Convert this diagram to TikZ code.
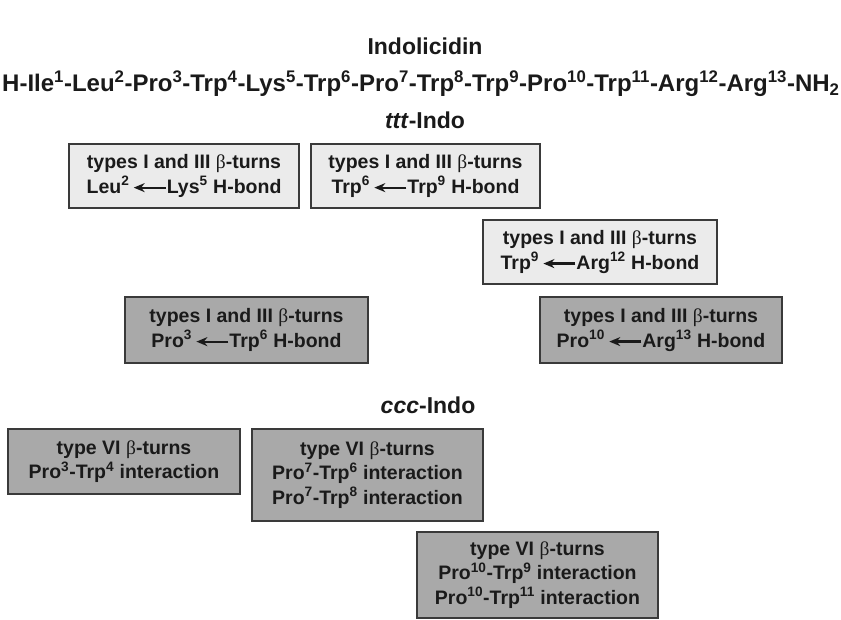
\documentclass[tikz,border=0pt]{standalone}
\usepackage{fontspec}
\setmainfont{Liberation Sans}
\newfontfamily\greekfont{Liberation Serif}
\usetikzlibrary{arrows.meta}
\definecolor{lightbox}{HTML}{EBEBEB}
\definecolor{darkbox}{HTML}{A9A9A9}
\definecolor{boxline}{HTML}{3A3A3A}
\definecolor{ink}{HTML}{1A1A1A}
\newcommand{\bt}{{\greekfont\mdseries β}}
\newcommand{\hb}{\,\tikz[baseline=-0.55ex]\draw[line width=2.2pt,-{Stealth[length=11pt,width=9pt]}] (0pt,0pt) -- (-32pt,0pt);}
\newcommand{\su}[1]{\textsuperscript{#1}}
\begin{document}
\begin{tikzpicture}[x=1pt,y=-1pt,
  title/.style={font=\fontsize{23}{26}\selectfont\bfseries, text=ink, inner sep=0pt},
  turnbox/.style={draw=boxline, line width=1.8pt, align=center, text=ink,
    font=\fontsize{19.5}{24.5}\selectfont\bfseries, inner sep=0pt},
  lightturn/.style={turnbox, fill=lightbox},
  darkturn/.style={turnbox, fill=darkbox}]
\useasboundingbox (0,0) rectangle (841,619);

\node[title] (name) at (425,46) {Indolicidin};
\node[title, font=\fontsize{24}{26}\selectfont\bfseries, anchor=west] (seq) at (2,84)
  {H-Ile\su{1}-Leu\su{2}-Pro\su{3}-Trp\su{4}-Lys\su{5}-Trp\su{6}-Pro\su{7}-Trp\su{8}-Trp\su{9}-Pro\su{10}-Trp\su{11}-Arg\su{12}-Arg\su{13}-NH\textsubscript{2}};
\node[title] (ttt) at (425,120) {\textit{ttt}-Indo};
\node[title] (ccc) at (428,405) {\textit{ccc}-Indo};

% trans-trans-trans conformer: beta-turns with H-bonds
\node[lightturn, minimum width=230pt, minimum height=64pt] (t1) at (184,176)
  {types I and III \bt-turns\\Leu\su{2}\hb Lys\su{5} H-bond};
\node[lightturn, minimum width=229pt, minimum height=64pt] (t2) at (425.5,176)
  {types I and III \bt-turns\\Trp\su{6}\hb Trp\su{9} H-bond};
\node[lightturn, minimum width=234pt, minimum height=64pt] (t3) at (600,252)
  {types I and III \bt-turns\\Trp\su{9}\hb Arg\su{12} H-bond};
\node[darkturn, minimum width=243pt, minimum height=66pt] (t4) at (246.5,330)
  {types I and III \bt-turns\\Pro\su{3}\hb Trp\su{6} H-bond};
\node[darkturn, minimum width=242pt, minimum height=66pt] (t5) at (661,330)
  {types I and III \bt-turns\\Pro\su{10}\hb Arg\su{13} H-bond};

% cis-cis-cis conformer: type VI beta-turns
\node[darkturn, minimum width=232pt, minimum height=65pt] (c1) at (124,461.5)
  {type VI \bt-turns\\Pro\su{3}-Trp\su{4} interaction};
\node[darkturn, minimum width=231pt, minimum height=92pt] (c2) at (367.5,475)
  {type VI \bt-turns\\Pro\su{7}-Trp\su{6} interaction\\Pro\su{7}-Trp\su{8} interaction};
\node[darkturn, minimum width=241pt, minimum height=86pt] (c3) at (537.5,575)
  {type VI \bt-turns\\Pro\su{10}-Trp\su{9} interaction\\Pro\su{10}-Trp\su{11} interaction};
\end{tikzpicture}
\end{document}
